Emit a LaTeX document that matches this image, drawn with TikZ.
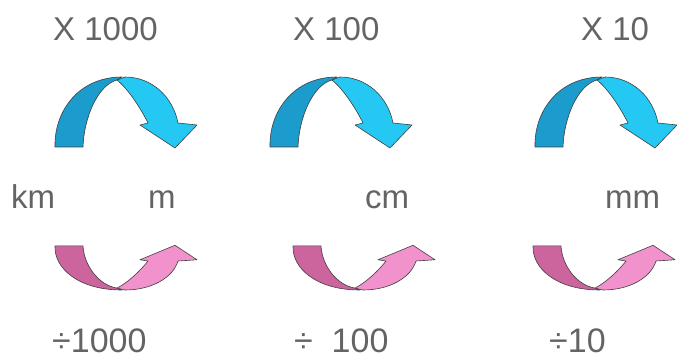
\documentclass[tikz,border=0pt]{standalone}
\usepackage{fontspec}
\setmainfont{Liberation Sans}
\definecolor{bdark}{RGB}{28,155,205}
\definecolor{blight}{RGB}{36,200,242}
\definecolor{pdark}{RGB}{204,100,158}
\definecolor{plight}{RGB}{242,146,205}
\definecolor{txt}{RGB}{100,100,100}
\tikzset{
  lbl/.style={text=txt, font=\fontsize{33}{38}\selectfont, inner sep=0pt, anchor=base west},
  lblb/.style={lbl, font=\fontsize{34}{40}\selectfont},
  shp/.style={draw=black!75, line width=0.6pt, line join=round},
  pics/curvarrow/.style 2 args={code={
    \filldraw[shp, fill=#1] (-65,70) -- (-37,70) .. controls (-36,40) and (-22,8) .. (-3,3)
      -- (2,0) .. controls (-42,0) and (-66,35) .. (-65,70) -- cycle;
    \filldraw[shp, fill=#2] (-3,3) -- (5,0) .. controls (32,0) and (53,20) .. (58,46)
      -- (77,48) -- (55,71) -- (20,48) -- (28,46) .. controls (20,30) and (8,12) .. (-3,3) -- cycle;
  }}
}
\begin{document}
\begin{tikzpicture}[x=1pt,y=-1pt]
\useasboundingbox[fill=white] (0,0) rectangle (677,358);
% top labels
\node[lbl] (t1) at (53,41) {X 1000};
\node[lbl] (t2) at (293,41) {X 100};
\node[lbl] (t3) at (581,41) {X 10};
% blue arrows
\pic (b1) at (120,77) {curvarrow={bdark}{blight}};
\pic (b2) at (335,77) {curvarrow={bdark}{blight}};
\pic (b3) at (600,77) {curvarrow={bdark}{blight}};
% unit labels
\node[lbl] (km) at (11,208) {km};
\node[lbl] (m) at (148,208) {m};
\node[lbl] (cm) at (365,208) {cm};
\node[lbl] (mm) at (605,208) {mm};
% pink arrows
\pic[yscale=-0.63] (p1) at (120,290) {curvarrow={pdark}{plight}};
\pic[yscale=-0.63] (p2) at (358,290) {curvarrow={pdark}{plight}};
\pic[yscale=-0.63] (p3) at (598,290) {curvarrow={pdark}{plight}};
% bottom labels
\node[lblb] (d1) at (52,352) {÷1000};
\node[lblb] (d2) at (294,352) {÷~~100};
\node[lblb] (d3) at (549,352) {÷10};
\end{tikzpicture}
\end{document}
